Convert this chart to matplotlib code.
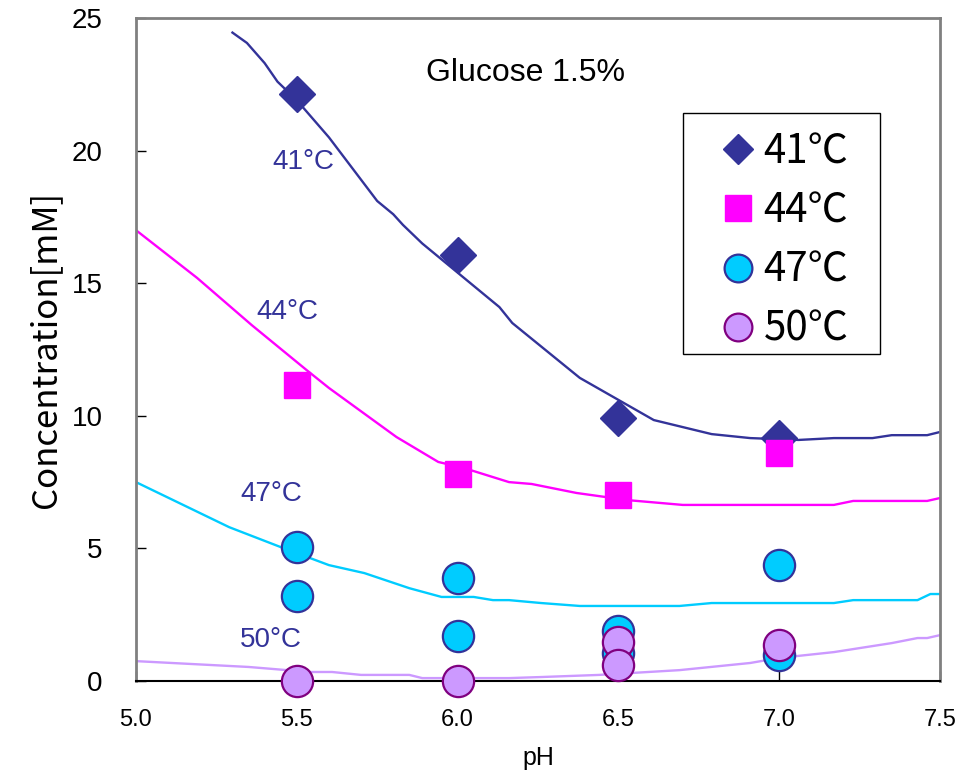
import matplotlib.pyplot as plt
from matplotlib.lines import Line2D
from matplotlib.patches import Rectangle

# measured points (pH, concentration mM)
ph_41 = [5.5, 6.0, 6.5, 7.0]
c_41 = [22.15, 16.05, 9.92, 9.15]
ph_44 = [5.5, 6.0, 6.5, 7.0]
c_44 = [11.16, 7.8, 7.01, 8.6]
ph_47 = [5.5, 5.5, 6.0, 6.0, 6.5, 6.5, 7.0, 7.0]
c_47 = [5.05, 3.2, 3.88, 1.70, 1.89, 1.06, 4.37, 0.98]
ph_50 = [5.5, 6.0, 6.5, 6.5, 7.0]
c_50 = [0.0, 0.0, 1.47, 0.60, 1.36]

# fitted curves
fit_ph_41 = [5.30, 5.345, 5.40, 5.44, 5.50, 5.60, 5.75, 5.80, 5.83, 5.89, 6.00, 6.07, 6.13,
             6.17, 6.38, 6.61, 6.79, 6.91, 7.06, 7.17, 7.29, 7.35, 7.46, 7.50]
fit_c_41 = [24.45, 24.06, 23.3, 22.6, 21.9, 20.5, 18.1, 17.6, 17.2, 16.5, 15.4, 14.7, 14.1,
            13.5, 11.43, 9.84, 9.31, 9.16, 9.09, 9.16, 9.16, 9.27, 9.27, 9.39]
fit_ph_44 = [5.0, 5.19, 5.36, 5.53, 5.60, 5.81, 5.94, 6.02, 6.16, 6.23, 6.37, 6.53, 6.70,
             7.17, 7.23, 7.46, 7.50]
fit_c_44 = [17.0, 15.2, 13.42, 11.73, 11.05, 9.2, 8.26, 8.03, 7.5, 7.43, 7.09, 6.82, 6.64,
            6.64, 6.79, 6.79, 6.9]
fit_ph_47 = [5.0, 5.29, 5.45, 5.60, 5.71, 5.85, 5.95, 6.05, 6.11, 6.16, 6.26, 6.38, 6.69,
             6.79, 7.17, 7.23, 7.43, 7.47, 7.50]
fit_c_47 = [7.5, 5.8, 5.05, 4.37, 4.07, 3.5, 3.17, 3.17, 3.05, 3.05, 2.94, 2.83, 2.83,
            2.94, 2.94, 3.05, 3.05, 3.28, 3.28]
fit_ph_50 = [5.0, 5.35, 5.54, 5.61, 5.70, 5.85, 5.89, 6.16, 6.26, 6.44, 6.69, 6.91, 7.0,
             7.17, 7.35, 7.43, 7.46, 7.50]
fit_c_50 = [0.75, 0.53, 0.34, 0.34, 0.23, 0.23, 0.11, 0.11, 0.15, 0.23, 0.41, 0.68, 0.87,
            1.09, 1.43, 1.62, 1.62, 1.73]

labels = ['41℃', '44℃', '47℃', '50℃']
curve_labels = ['41°C', '44°C', '47°C', '50°C']
label_pos = [(5.52, 19.57), (5.47, 13.9), (5.42, 7.05), (5.42, 1.55)]

navy = '#333399'
magenta = '#FF00FF'
cyan = '#00CCFF'
lilac = '#CC99FF'
purple = '#800080'

fig = plt.figure(figsize=(9.74, 7.73), dpi=100)
ax = fig.add_axes([0.1396, 0.119, 0.8255, 0.8577])

ax.plot(fit_ph_41, fit_c_41, color=navy, lw=1.7, zorder=2)
ax.plot(fit_ph_44, fit_c_44, color=magenta, lw=1.7, zorder=2)
ax.plot(fit_ph_47, fit_c_47, color=cyan, lw=1.7, zorder=2)
ax.plot(fit_ph_50, fit_c_50, color=lilac, lw=1.7, zorder=2)

ax.plot(ph_41, c_41, 'D', ms=18, color=navy, mec=navy, ls='none', zorder=3, clip_on=False)
ax.plot(ph_44, c_44, 's', ms=19, color=magenta, mec=magenta, ls='none', zorder=4, clip_on=False)
ax.plot(ph_47, c_47, 'o', ms=22.5, color=cyan, mec=navy, mew=1.6, ls='none', zorder=5, clip_on=False)
ax.plot(ph_50, c_50, 'o', ms=22.5, color=lilac, mec=purple, mew=1.6, ls='none', zorder=6, clip_on=False)

for txt, (x, y) in zip(curve_labels, label_pos):
    ax.text(x, y, txt, color=navy, fontsize=20, ha='center', va='center',
            family='Liberation Sans')

ax.text(0.485, 0.917, 'Glucose 1.5%', transform=ax.transAxes, fontsize=23,
        ha='center', va='center', family='Liberation Sans')

# legend box drawn separately so its size matches
ax.add_patch(Rectangle((0.6803, 0.4932), 0.245, 0.3635, transform=ax.transAxes,
                       facecolor='white', edgecolor='black', lw=1.0, zorder=7))

handles = [
    Line2D([], [], marker='D', ms=15, color=navy, ls='none'),
    Line2D([], [], marker='s', ms=19, color=magenta, ls='none'),
    Line2D([], [], marker='o', ms=20, color=cyan, mec=navy, mew=1.6, ls='none'),
    Line2D([], [], marker='o', ms=20, color=lilac, mec=purple, mew=1.6, ls='none'),
]
leg = ax.legend(handles, labels, loc='upper left', bbox_to_anchor=(0.7214, 0.829),
                prop={'family': 'Noto Sans CJK JP', 'size': 29}, frameon=False,
                handlelength=1.08, handletextpad=0.1, labelspacing=0.45,
                borderpad=0, borderaxespad=0)
leg.set_zorder(8)

ax.set_xlim(5.0, 7.5)
ax.set_ylim(0, 25)
ax.set_xticks([5.0, 5.5, 6.0, 6.5, 7.0, 7.5])
ax.set_xticklabels(['5.0', '5.5', '6.0', '6.5', '7.0', '7.5'])
ax.set_yticks([0, 5, 10, 15, 20, 25])
ax.tick_params(axis='both', direction='in', length=7, width=1, colors='black')
ax.tick_params(axis='x', pad=20, labelsize=17)
ax.tick_params(axis='y', pad=24, labelsize=20)
for t in ax.get_xticklabels() + ax.get_yticklabels():
    t.set_family('Liberation Sans')

for s in ['top', 'right', 'left']:
    ax.spines[s].set_color('#808080')
    ax.spines[s].set_linewidth(2)
ax.spines['bottom'].set_color('black')
ax.spines['bottom'].set_linewidth(1.5)

ax.set_xlabel('pH', fontsize=18, family='Liberation Sans', labelpad=11)
ax.set_ylabel('Concentration[mM]', fontsize=25, family='Noto Sans CJK JP', labelpad=6)

fig.savefig('out.png', dpi=100)
